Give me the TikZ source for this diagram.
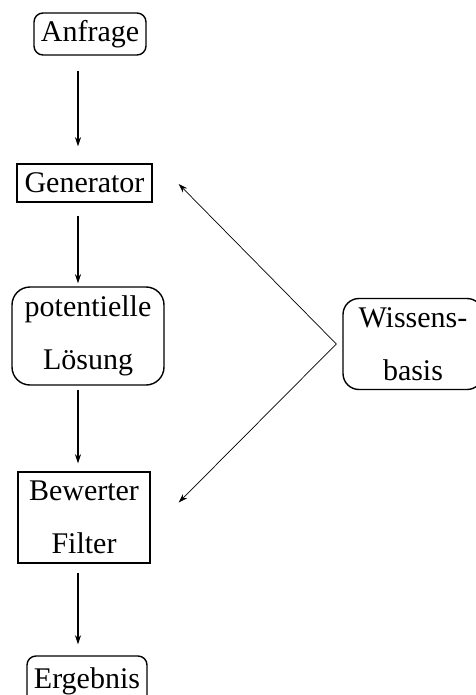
\documentclass[tikz,border=0pt]{standalone}
\usepackage{fontspec}
\setmainfont{Liberation Serif}
\usepackage{xcolor}
\usetikzlibrary{calc,arrows.meta}
\definecolor{ink}{HTML}{000000}
\tikzset{
  box/.style={draw=ink, line width=1.4pt, inner sep=0pt, align=center,
    font=\fontsize{30}{53}\selectfont},
  softbox/.style={box, rounded corners=14pt},
  flow/.style={-{Stealth[length=9pt,width=6pt]}, draw=ink, line width=1.3pt},
  feed/.style={-{Stealth[length=9pt,width=6pt]}, draw=ink, line width=0.7pt}
}
\begin{document}
\begin{tikzpicture}[x=1pt,y=-1pt]
  \useasboundingbox (0,0) rectangle (475,695);
  \coordinate (spine) at (78,0);

  \node[softbox, minimum width=112pt, minimum height=42pt, rounded corners=9pt] (anfrage) at (90,34) {Anfrage};
  \node[box, minimum width=135pt, minimum height=38pt] (gen) at (84.5,183) {Generator};
  \node[softbox, minimum width=152pt, minimum height=98pt, rounded corners=18pt] (loes) at (88,336) {potentielle\\Lösung};
  \node[box, minimum width=132pt, minimum height=91pt] (filter) at (84,517.5) {Bewerter\\Filter};
  \node[softbox, minimum width=120pt, minimum height=50pt, rounded corners=9pt] (erg) at (87,681) {Ergebnis};
  \node[softbox, minimum width=140pt, minimum height=91pt, rounded corners=16pt] (wissen) at (413,344) {Wissens-\\basis};

  \draw[flow, shorten <=15pt, shorten >=17pt] (anfrage.south -| spine) -- (gen.north -| spine);
  \draw[flow, shorten <=13pt, shorten >=3pt] (gen.south -| spine) -- (loes.north -| spine);
  \draw[flow, shorten <=4pt, shorten >=8pt] (loes.south -| spine) -- (filter.north -| spine);
  \draw[flow, shorten <=9pt, shorten >=11pt] (filter.south -| spine) -- (erg.north -| spine);

  % Rueckkopplung aus der Wissensbasis
  \coordinate (apex) at ($(wissen.west)+(-6,0)$);
  \coordinate (genin) at ($(gen.east)+(26,1)$);
  \coordinate (filin) at ($(filter.east)+(28,-15)$);
  \draw[feed] (apex) -- (genin);
  \draw[feed] (apex) -- (filin);
\end{tikzpicture}
\end{document}
